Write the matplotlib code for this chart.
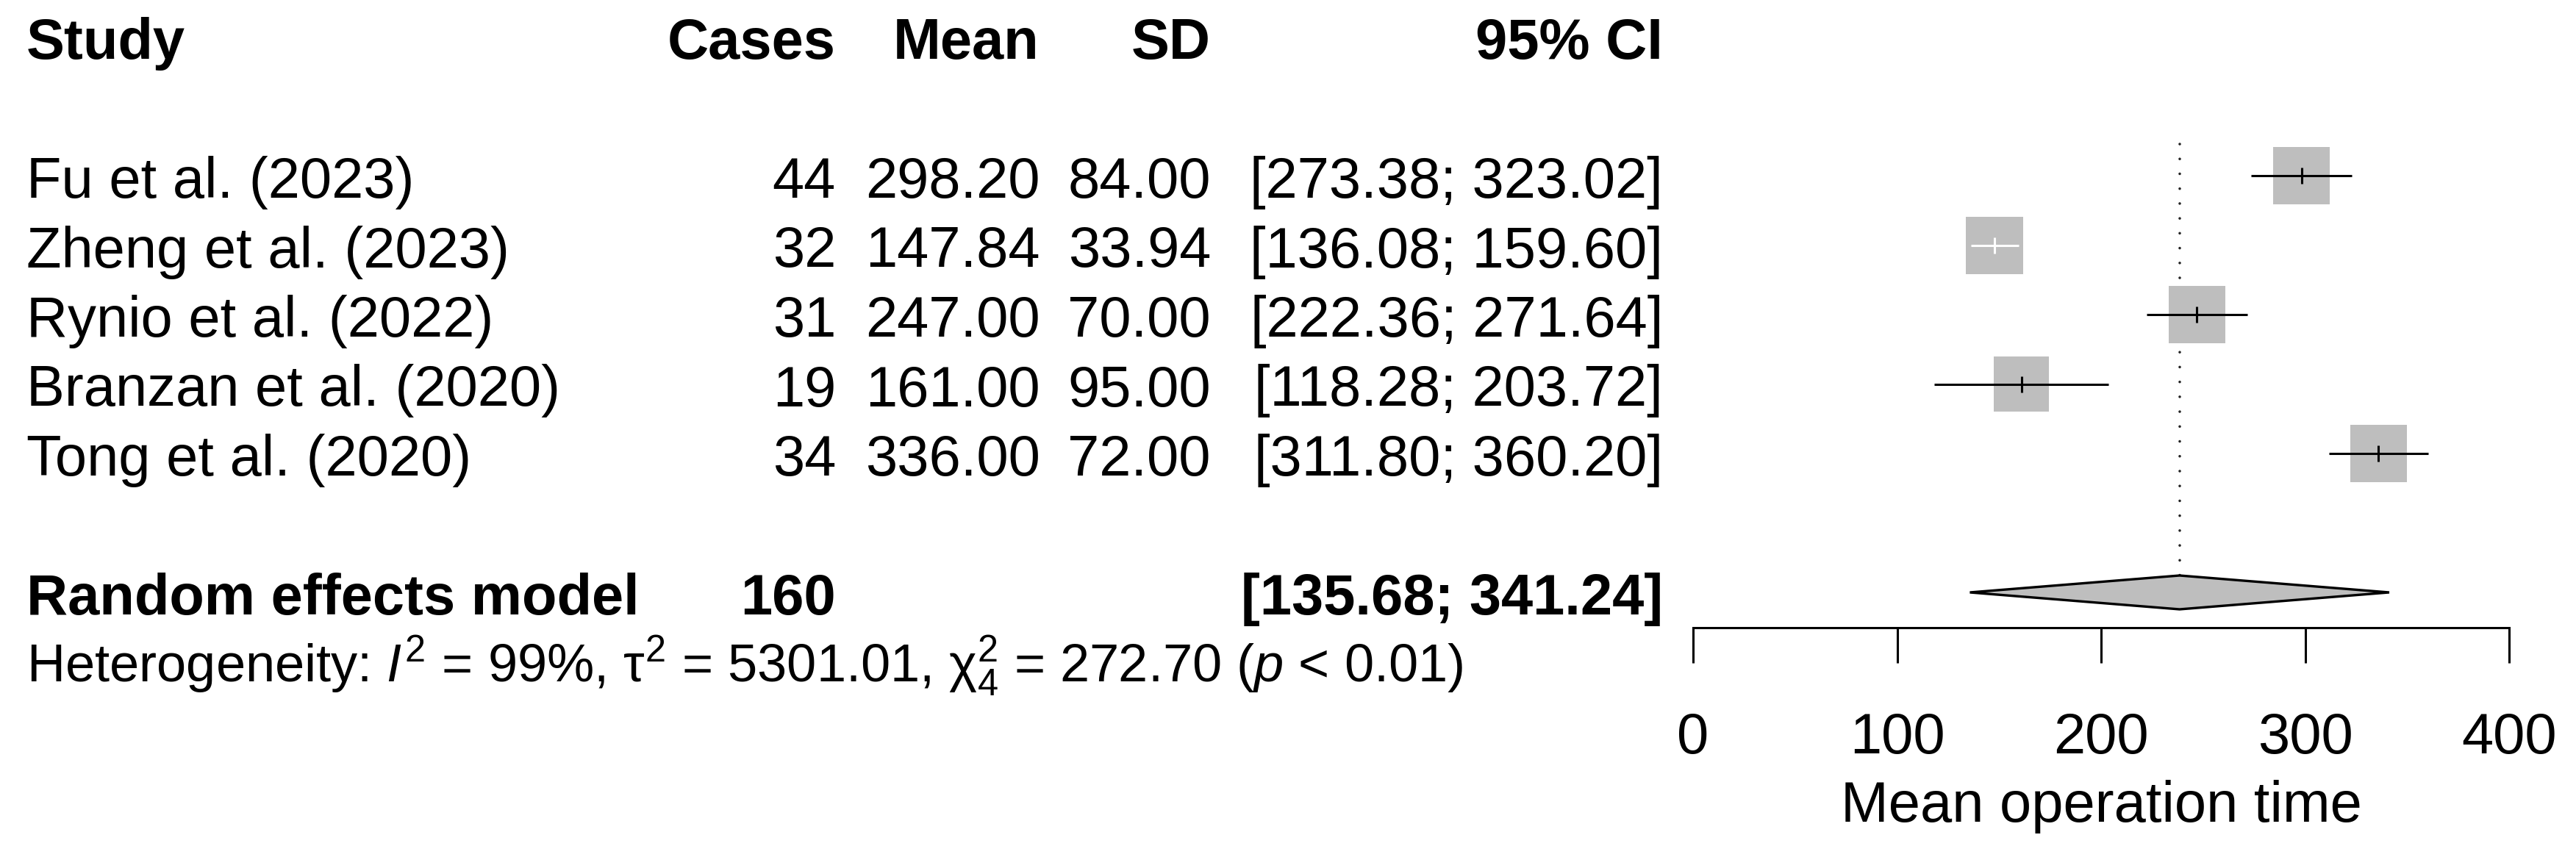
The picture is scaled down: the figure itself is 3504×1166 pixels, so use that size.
import numpy as np
import matplotlib
matplotlib.use("Agg")
import matplotlib.pyplot as plt
from matplotlib.patches import Rectangle, Polygon

plt.rcParams['font.family'] = ['Liberation Sans', 'DejaVu Sans']
plt.rcParams['mathtext.fontset'] = 'custom'
plt.rcParams['mathtext.rm'] = 'Liberation Sans'
plt.rcParams['mathtext.it'] = 'Liberation Sans:italic'
plt.rcParams['mathtext.bf'] = 'Liberation Sans:bold'

# ---------------- data ----------------
studies = ["Fu et al. (2023)", "Zheng et al. (2023)", "Rynio et al. (2022)",
           "Branzan et al. (2020)", "Tong et al. (2020)"]
cases = [44, 32, 31, 19, 34]
means = [298.20, 147.84, 247.00, 161.00, 336.00]
sds = [84.00, 33.94, 70.00, 95.00, 72.00]
ci_low = [273.38, 136.08, 222.36, 118.28, 311.80]
ci_high = [323.02, 159.60, 271.64, 203.72, 360.20]
total_cases = 160
re_low, re_high = 135.68, 341.24
re_est = (re_low + re_high) / 2
tau2 = 5301.01
i2 = 99
chi2 = 272.70
df = 4
xticks = [0, 100, 200, 300, 400]
xlabel = "Mean operation time"

# ---------------- layout (pixels) ----------------
W, H = 3504, 1166
fig = plt.figure(figsize=(W / 100, H / 100), dpi=100)
fig.patch.set_facecolor('white')

ax_t = fig.add_axes([0, 0, 1, 1])
ax_t.set_xlim(0, W)
ax_t.set_ylim(H, 0)
ax_t.axis('off')

x0_px, x1_px = 2303, 3413
ax_f = fig.add_axes([x0_px / W, 0, (x1_px - x0_px) / W, 1])
ax_f.set_xlim(xticks[0], xticks[-1])
ax_f.set_ylim(H, 0)
ax_f.axis('off')
px_per_unit = (x1_px - x0_px) / (xticks[-1] - xticks[0])

ROW0 = 239.0      # center of first study row
STEP = 94.5       # row spacing
BASE = 30.0       # text baseline offset below center


def yc(r):
    return ROW0 + STEP * r


FS = 56
FS_HET = 52
col_study = 36
col_cases = 1137
col_mean = 1415
col_sd = 1647
col_ci = 2262

# header
yh = yc(-2) + BASE
ax_t.text(col_study, yh, "Study", fontsize=FS, fontweight='bold', ha='left', va='baseline')
ax_t.text(col_cases, yh, "Cases", fontsize=FS, fontweight='bold', ha='right', va='baseline')
ax_t.text(col_mean - 2, yh, "Mean", fontsize=FS, fontweight='bold', ha='right', va='baseline')
ax_t.text(col_sd, yh, "SD", fontsize=FS, fontweight='bold', ha='right', va='baseline')
ax_t.text(col_ci, yh, "95% CI", fontsize=FS, fontweight='bold', ha='right', va='baseline')

# study rows
se = np.array(sds) / np.sqrt(np.array(cases))
w = 1.0 / (se ** 2 + tau2)
side_px = 78.0 * np.sqrt(w / w.max())

for i, name in enumerate(studies):
    yb = yc(i) + BASE
    ax_t.text(col_study, yb, name, fontsize=FS, ha='left', va='baseline')
    ax_t.text(col_cases, yb, f"{cases[i]}", fontsize=FS, ha='right', va='baseline')
    ax_t.text(col_mean, yb, f"{means[i]:.2f}", fontsize=FS, ha='right', va='baseline')
    ax_t.text(col_sd, yb, f"{sds[i]:.2f}", fontsize=FS, ha='right', va='baseline')
    ax_t.text(col_ci, yb, f"[{ci_low[i]:.2f}; {ci_high[i]:.2f}]", fontsize=FS,
              ha='right', va='baseline')

    # forest marks
    y = yc(i)
    s = side_px[i]
    wd = s / px_per_unit
    ax_f.add_patch(Rectangle((means[i] - wd / 2, y - s / 2), wd, s,
                             facecolor='#bebebe', edgecolor='none', zorder=2))
    inside = (ci_low[i] >= means[i] - wd / 2) and (ci_high[i] <= means[i] + wd / 2)
    lc = 'white' if inside else 'black'
    ax_f.plot([ci_low[i], ci_high[i]], [y, y], color=lc, lw=2.2,
              solid_capstyle='butt', zorder=3, clip_on=False)
    ax_f.plot([means[i], means[i]], [y - 11, y + 11], color=lc, lw=2.2,
              solid_capstyle='butt', zorder=3, clip_on=False)

# random effects row
yr = yc(6)
ax_t.text(col_study, yr + BASE, "Random effects model", fontsize=FS, fontweight='bold',
          ha='left', va='baseline')
ax_t.text(col_cases, yr + BASE, f"{total_cases}", fontsize=FS, fontweight='bold',
          ha='right', va='baseline')
ax_t.text(col_ci, yr + BASE, f"[{re_low:.2f}; {re_high:.2f}]", fontsize=FS,
          fontweight='bold', ha='right', va='baseline')

dh = 23
ax_f.add_patch(Polygon([(re_low, yr), (re_est, yr - dh), (re_high, yr), (re_est, yr + dh)],
                       closed=True, facecolor='#bebebe', edgecolor='black', lw=2.4,
                       joinstyle='miter', zorder=3, clip_on=False))

# reference dotted line at pooled estimate
ax_f.plot([re_est, re_est], [yc(0) - 43, yr - dh], color='#222222', lw=2.6,
          linestyle=(0, (0.001, 5.6)), dash_capstyle='round', zorder=1, clip_on=False)

# heterogeneity
ax_t.text(col_study, yc(6.96) + BASE,
          r"Heterogeneity: $I^2$ = " + f"{i2}%, " + r"$\mathrm{\tau}^2$ = " + f"{tau2:.2f}, "
          + r"$\mathrm{\chi}^2_{" + f"{df}" + r"}$ = " + f"{chi2:.2f} (" + r"$p$" + " < 0.01)",
          fontsize=FS_HET, ha='left', va='baseline')

# x axis
y_axis = 854
tick_len = 48
ax_f.plot([xticks[0], xticks[-1]], [y_axis, y_axis], color='black', lw=2.2,
          solid_capstyle='projecting', clip_on=False)
for t in xticks:
    ax_f.plot([t, t], [y_axis, y_axis + tick_len], color='black', lw=2.2,
              solid_capstyle='butt', clip_on=False)
    ax_f.text(t, 1025, f"{t}", fontsize=FS, ha='center', va='baseline', clip_on=False)
ax_f.text((xticks[0] + xticks[-1]) / 2, 1118, xlabel, fontsize=FS, ha='center',
          va='baseline', clip_on=False)

fig.savefig("out.png", dpi=100, facecolor='white')
